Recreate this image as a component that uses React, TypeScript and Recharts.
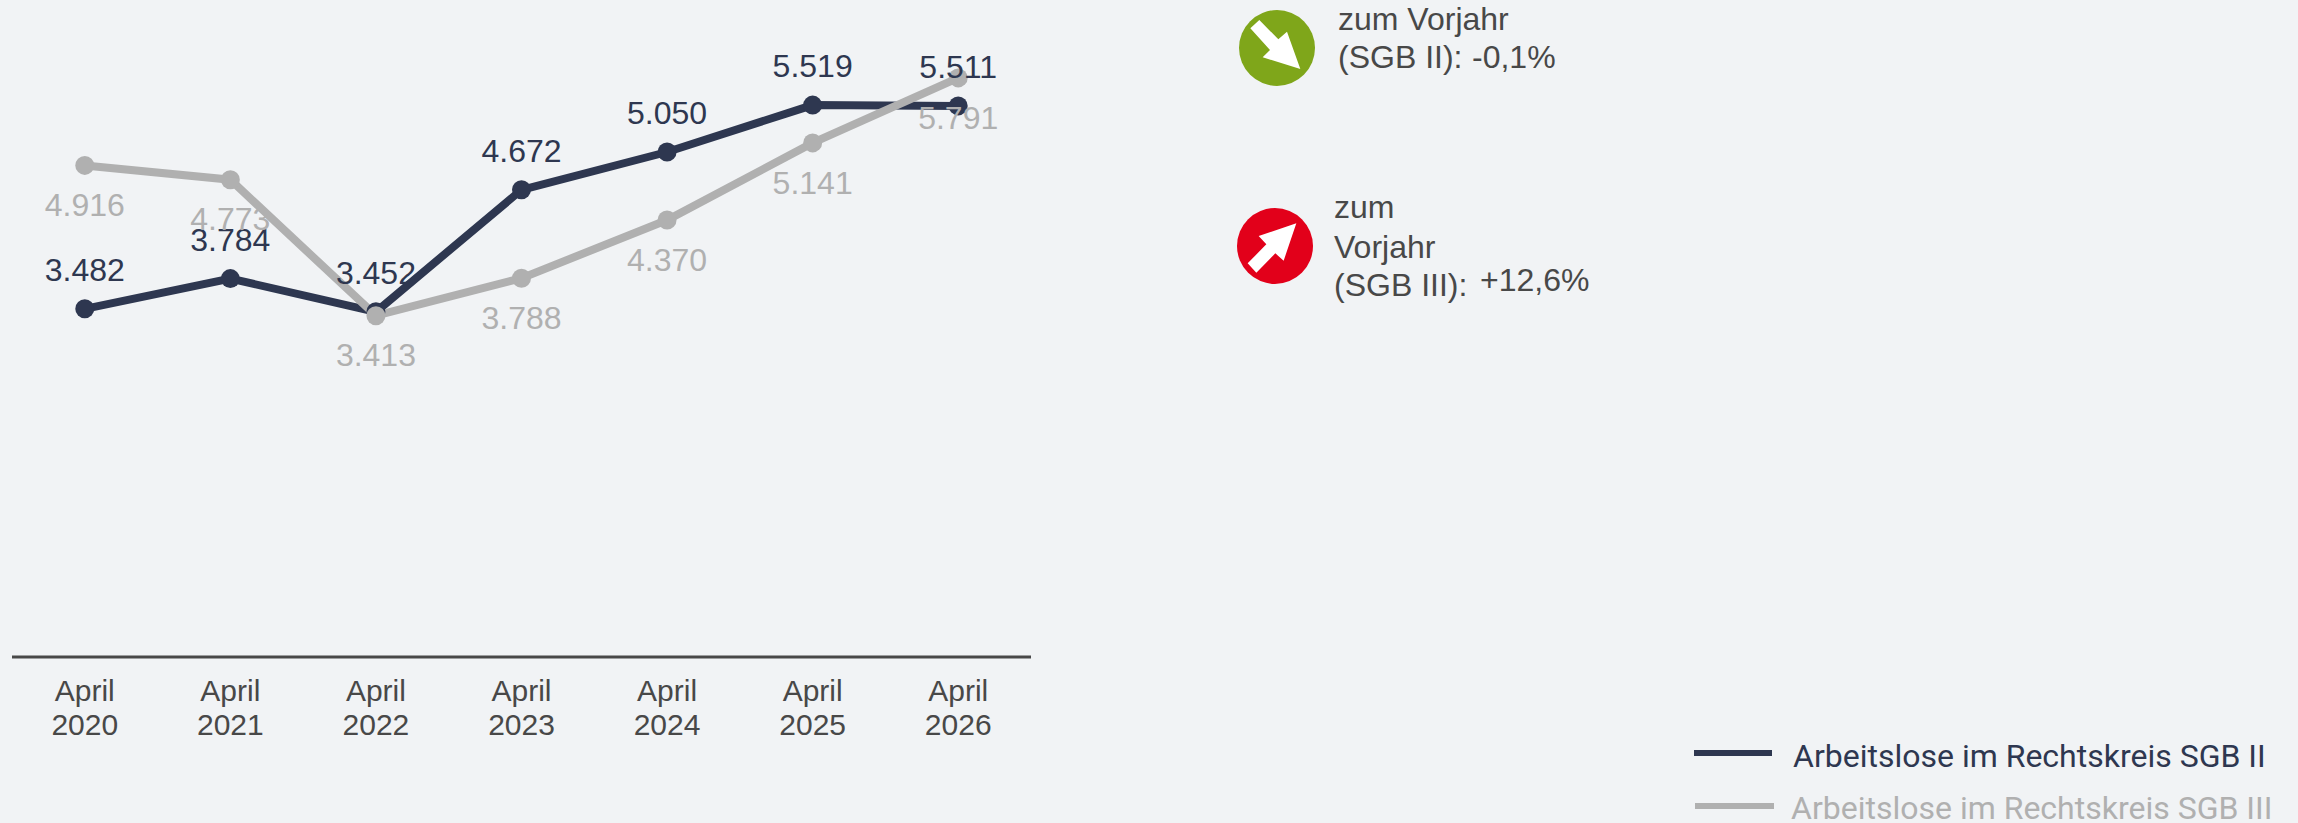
import React from "react"
import { LineChart, Line, XAxis, YAxis, LabelList, Legend } from "recharts"

const categories = ["April 2020", "April 2021", "April 2022", "April 2023", "April 2024", "April 2025", "April 2026"]
const sgb2Values = [3482, 3784, 3452, 4672, 5050, 5519, 5511]
const sgb3Values = [4916, 4773, 3413, 3788, 4370, 5141, 5791]
const sgb2Name = "Arbeitslose im Rechtskreis SGB II"
const sgb3Name = "Arbeitslose im Rechtskreis SGB III"

const data = categories.map((name, i) => ({ name, sgb2: sgb2Values[i], sgb3: sgb3Values[i] }))

const DARK = "#2e3750"
const GRAY = "#b0b0b0"
const TEXT = "#484848"
const ARIAL = '"Liberation Sans", Arial, sans-serif'

const formatValue = (v: any) => String(v).replace(/\B(?=(\d{3})+$)/g, ".")

function YearTick({ x, y, payload }: any) {
  const [month, year] = payload.value.split(" ")
  return (
    <text x={x} textAnchor="middle" fill={TEXT} fontSize={30} fontFamily={ARIAL}>
      <tspan x={x} y={y + 36}>{month}</tspan>
      <tspan x={x} y={y + 70}>{year}</tspan>
    </text>
  )
}

function SeriesLegend({ payload }: any) {
  return (
    <svg width={600} height={70} style={{ display: "block", overflow: "visible" }}>
      {(payload || []).map((entry: any, i: number) => (
        <g key={entry.value}>
          <line x1={i} x2={78 + i * 2} y1={i * 53} y2={i * 53} stroke={entry.color} strokeWidth={6} />
          <text x={99 - i * 2} y={14 + i * 52} fill={entry.color} fontSize={32} fontFamily="Roboto">{entry.value}</text>
        </g>
      ))}
    </svg>
  )
}

function Badge({ left, top, color, points }: any) {
  return (
    <svg width={76} height={76} viewBox="0 0 228 228" style={{ position: "absolute", left, top }}>
      <circle cx={114} cy={114} r={114} fill={color} />
      <polygon points={points} fill="#ffffff" />
    </svg>
  )
}

function Note({ left, baseline, text }: any) {
  return (
    <div style={{ position: "absolute", left, top: baseline - 28, fontFamily: ARIAL, fontSize: 32, lineHeight: "36px", color: TEXT, whiteSpace: "pre" }}>
      {text}
    </div>
  )
}

export default function App() {
  return (
    <div style={{ position: "absolute", left: 0, top: 0, width: 2298, height: 823, background: "#f1f3f5", overflow: "hidden" }}>
      <LineChart width={2298} height={823} data={data} margin={{ top: 57, right: 1267, bottom: 0, left: 12 }}>
        <XAxis
          dataKey="name"
          scale="band"
          height={166}
          interval={0}
          tickLine={false}
          tick={<YearTick />}
          axisLine={{ stroke: TEXT, strokeWidth: 3 }}
        />
        <YAxis hide domain={[0, 6000]} />
        <Legend
          layout="vertical"
          align="center"
          verticalAlign="middle"
          content={<SeriesLegend />}
          wrapperStyle={{ position: "absolute", left: 1694, top: 753, width: 600, height: 70, margin: 0 }}
        />
        <Line
          dataKey="sgb2"
          name={sgb2Name}
          stroke={DARK}
          strokeWidth={8}
          dot={{ r: 9.5, fill: DARK, stroke: "none" }}
          isAnimationActive={false}
        >
          <LabelList dataKey="sgb2" position="top" offset={28} formatter={formatValue} fill={DARK} fontSize={32} fontFamily={ARIAL} />
        </Line>
        <Line
          dataKey="sgb3"
          name={sgb3Name}
          stroke={GRAY}
          strokeWidth={8}
          dot={{ r: 9.5, fill: GRAY, stroke: "none" }}
          isAnimationActive={false}
        >
          <LabelList dataKey="sgb3" position="bottom" offset={28} formatter={formatValue} fill={GRAY} fontSize={32} fontFamily={ARIAL} />
        </Line>
      </LineChart>

      <Badge left={1239} top={10} color="#7fa61a" points="34,55 61,30 118,88 144,65 184,177 71,142 93,120" />
      <Note left={1338} baseline={29} text="zum Vorjahr" />
      <Note left={1338} baseline={67} text="(SGB II):" />
      <Note left={1472} baseline={67} text="-0,1%" />

      <Badge left={1237} top={208} color="#e2001a" points="32,166 58,194 115,136 140,158 178,46 65,84 88,109" />
      <Note left={1334} baseline={217} text="zum" />
      <Note left={1334} baseline={257} text="Vorjahr" />
      <Note left={1334} baseline={295} text="(SGB III):" />
      <Note left={1480} baseline={290} text="+12,6%" />
    </div>
  )
}
